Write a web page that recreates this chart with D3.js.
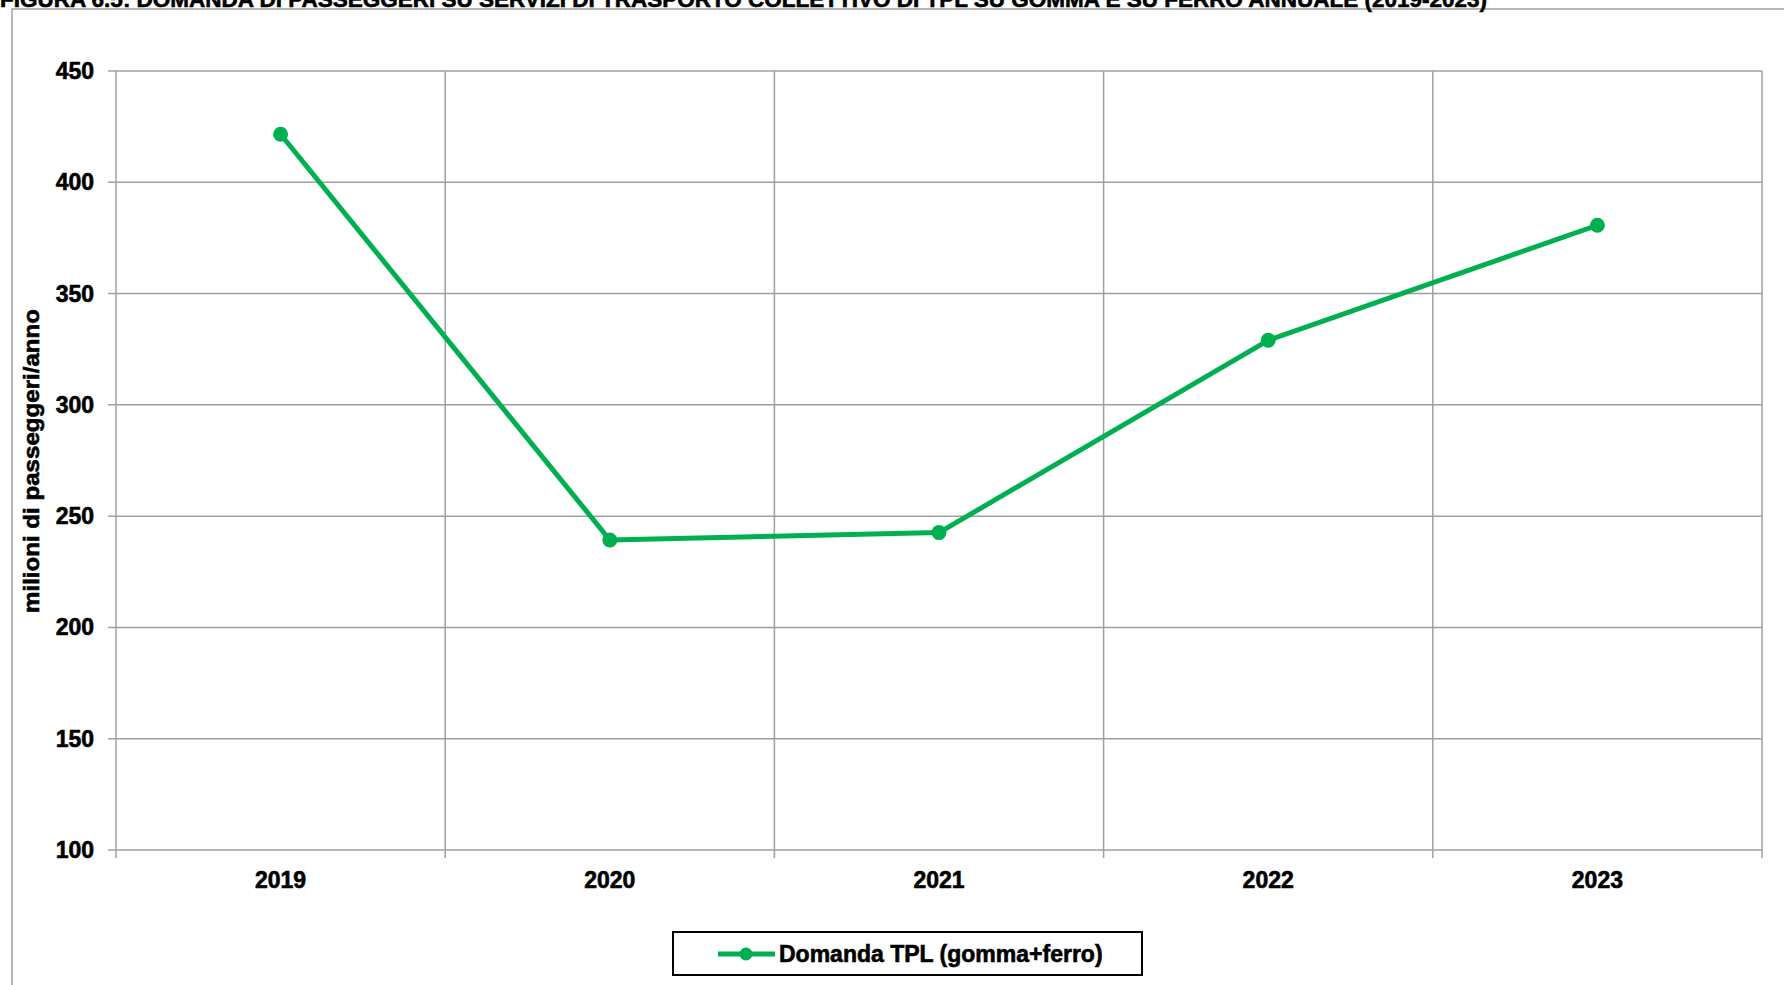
<!DOCTYPE html>
<meta charset="utf-8">
<script src="https://d3js.org/d3.v7.min.js"></script>
<title>DOMANDA TPL</title>
<style>
body { margin: 0; background: #fff; font-family: "Liberation Sans", Arial, sans-serif; }
text { fill: #000; font-weight: bold; stroke: #000; stroke-width: 0.6px; }
.grid line { stroke: #a0a0a0; stroke-width: 1.5px; }
</style>
<body>
<svg id="chart" width="1784" height="985"></svg>
<script>

// data
var years = ["2019", "2020", "2021", "2022", "2023"];
var domanda = [421.6, 239.3, 242.6, 329.0, 380.7];
var yTicks = [100, 150, 200, 250, 300, 350, 400, 450];
var titolo = "FIGURA 6.5: DOMANDA DI PASSEGGERI SU SERVIZI DI TRASPORTO COLLETTIVO DI TPL SU GOMMA E SU FERRO ANNUALE (2019-2023)";
var serieNome = "Domanda TPL (gomma+ferro)";

var svg = d3.select("#chart"),
    margin = {top: 71, left: 116, right: 22, bottom: 135},
    width = +svg.attr("width"),
    height = +svg.attr("height"),
    w = width - margin.left - margin.right,
    h = height - margin.top - margin.bottom;

var green = "#00b050", gray = "#a0a0a0";

// outer frame (runs off the page right/bottom)
svg.append("rect")
    .attr("x", 12).attr("y", 9)
    .attr("width", 1900).attr("height", 1100)
    .style("fill", "none").style("stroke", gray).style("stroke-width", 1.5);

// title, cut off at the top like the source
svg.append("text")
    .attr("x", 0).attr("y", 7)
    .style("font-family", "'Liberation Sans Narrow', 'Liberation Sans', sans-serif")
    .style("font-size", "22px")
    .attr("textLength", 1487)
    .attr("lengthAdjust", "spacingAndGlyphs")
    .text(titolo);

var x = d3.scaleBand().domain(years).range([0, w]);
var y = d3.scaleLinear().domain([100, 450]).range([h, 0]);

var g = svg.append("g").attr("transform", "translate(" + margin.left + "," + margin.top + ")");

// horizontal grid
g.append("g").attr("class", "grid")
  .selectAll("line").data(yTicks).enter().append("line")
    .attr("x1", -8).attr("x2", w)
    .attr("y1", function(d) { return y(d); })
    .attr("y2", function(d) { return y(d); });

// vertical grid at category boundaries
var bounds = years.map(function(d) { return x(d); }).concat([w]);
g.append("g").attr("class", "grid")
  .selectAll("line").data(bounds).enter().append("line")
    .attr("x1", function(d) { return d; })
    .attr("x2", function(d) { return d; })
    .attr("y1", 0).attr("y2", h + 8);

// y labels
g.append("g").selectAll("text").data(yTicks).enter().append("text")
    .attr("x", -22)
    .attr("y", function(d) { return y(d); })
    .attr("dy", "0.35em")
    .attr("text-anchor", "end")
    .style("font-size", "23px")
    .text(function(d) { return d; });

// x labels
g.append("g").selectAll("text").data(years).enter().append("text")
    .attr("x", function(d) { return x(d) + x.bandwidth() / 2; })
    .attr("y", h + 30)
    .attr("dy", "0.35em")
    .attr("text-anchor", "middle")
    .style("font-size", "23px")
    .text(function(d) { return d; });

// y axis title
svg.append("text")
    .attr("transform", "translate(39,461) rotate(-90)")
    .attr("text-anchor", "middle")
    .style("font-size", "22px")
    .attr("textLength", 304)
    .attr("lengthAdjust", "spacingAndGlyphs")
    .text("milioni di passeggeri/anno");

// series
var pts = years.map(function(d, i) { return {year: d, v: domanda[i]}; });
var line = d3.line()
    .x(function(d) { return x(d.year) + x.bandwidth() / 2; })
    .y(function(d) { return y(d.v); });

g.append("path").datum(pts)
    .attr("d", line)
    .style("fill", "none")
    .style("stroke", green)
    .style("stroke-width", 5)
    .style("stroke-linejoin", "round");

g.selectAll(".dot").data(pts).enter().append("circle")
    .attr("class", "dot")
    .attr("r", 7.5)
    .attr("cx", function(d) { return x(d.year) + x.bandwidth() / 2; })
    .attr("cy", function(d) { return y(d.v); })
    .style("fill", green);

// legend
var lg = svg.append("g").attr("transform", "translate(673,932)");
lg.append("rect")
    .attr("width", 469).attr("height", 43)
    .style("fill", "#fff").style("stroke", "#000").style("stroke-width", 2);
lg.append("line")
    .attr("x1", 45).attr("x2", 102).attr("y1", 22).attr("y2", 22)
    .style("stroke", green).style("stroke-width", 5);
lg.append("circle")
    .attr("cx", 73).attr("cy", 22).attr("r", 6.5)
    .style("fill", green);
lg.append("text")
    .attr("x", 106).attr("y", 22).attr("dy", "0.35em")
    .style("font-size", "23px")
    .text(serieNome);

</script>
</body>
